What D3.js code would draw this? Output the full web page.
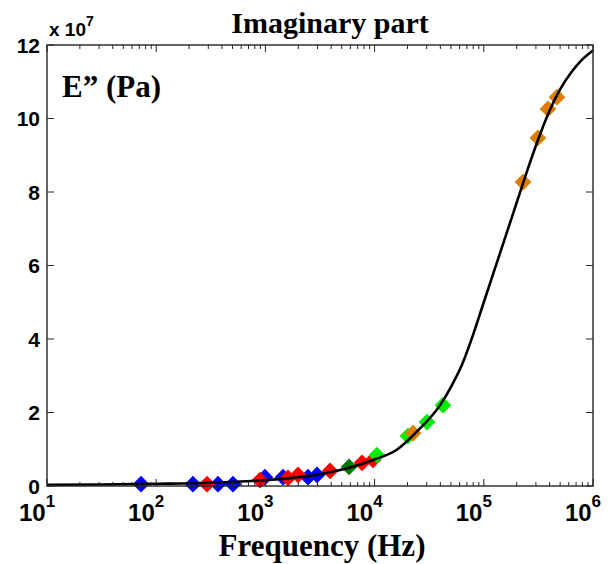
<!DOCTYPE html>
<html>
<head>
<meta charset="utf-8">
<script src="https://cdn.jsdelivr.net/npm/d3@7"></script>
<style>
  body { margin: 0; background: #fff; }
</style>
</head>
<body>
<div id="chart"></div>
<script>
// measured data (Hz, E'' in units of 1e7 Pa), one array per marker colour
var blueF = [72.6, 217, 368, 505, 990, 1449, 2455, 2970];
var blueE = [0.05, 0.05, 0.05, 0.05, 0.24, 0.24, 0.24, 0.30];
var redF = [292, 893, 1610, 1990, 3910, 7670, 9670];
var redE = [0.05, 0.16, 0.22, 0.30, 0.41, 0.63, 0.71];
var darkGreenF = [5830];
var darkGreenE = [0.52];
var greenF = [10500, 20200, 30200, 42300];
var greenE = [0.84, 1.36, 1.74, 2.20];
var orangeF = [22500, 228600, 313000, 387000, 468000];
var orangeE = [1.44, 8.27, 9.47, 10.26, 10.58];

// fitted model curve (log10 Hz, E'' / 1e7)
var fitLogF = [1.0, 1.5, 2.0, 2.5, 3.0, 3.25, 3.5, 3.75, 4.0, 4.2, 4.4, 4.6, 4.7, 4.8, 4.9, 5.0, 5.1, 5.2, 5.3, 5.4, 5.5, 5.6, 5.7, 5.8, 5.9, 6.0];
var fitE = [0.03, 0.04, 0.06, 0.09, 0.16, 0.22, 0.32, 0.48, 0.72, 0.98, 1.52, 2.2, 2.7, 3.3, 4.1, 5.0, 5.9, 6.8, 7.7, 8.6, 9.45, 10.2, 10.8, 11.25, 11.6, 11.85];

var yTicks = [0, 2, 4, 6, 8, 10, 12];
var xDecades = [1, 2, 3, 4, 5, 6];

var series = [
  { f: blueF, e: blueE, color: "#0000ff" },
  { f: redF, e: redE, color: "#ff0000" },
  { f: darkGreenF, e: darkGreenE, color: "#007a00" },
  { f: greenF, e: greenE, color: "#00ee00" },
  { f: orangeF, e: orangeE, color: "#dd7e00" }
];

var W = 615, H = 564;
var margin = { top: 45, right: 22, bottom: 78, left: 47 },
    width = W - margin.left - margin.right,
    height = H - margin.top - margin.bottom;

var svg = d3.select("#chart").append("svg")
    .attr("width", W)
    .attr("height", H);

var g = svg.append("g")
    .attr("transform", "translate(" + margin.left + "," + margin.top + ")");

var x = d3.scaleLog().domain([10, 1e6]).range([0, width]);
var y = d3.scaleLinear().domain([0, 12]).range([height, 0]);

var axisColor = "#262626";

// markers first, curve is drawn over them
var diamond = d3.symbol().type(d3.symbolSquare).size(140);
series.forEach(function (s) {
  g.selectAll(null)
    .data(s.f.map(function (f, i) { return [f, s.e[i]]; }))
    .enter().append("path")
    .attr("d", diamond)
    .attr("transform", function (d) {
      return "translate(" + x(d[0]) + "," + y(d[1]) + ") rotate(45)";
    })
    .attr("fill", s.color);
});

// curve
var fit = fitLogF.map(function (lf, i) { return [Math.pow(10, lf), fitE[i]]; });
g.append("path")
  .datum(fit)
  .attr("fill", "none")
  .attr("stroke", "#000")
  .attr("stroke-width", 2.6)
  .attr("d", d3.line()
    .x(function (d) { return x(d[0]); })
    .y(function (d) { return y(d[1]); })
    .curve(d3.curveMonotoneX));

// ticks (inside, all four sides)
var minor = [];
xDecades.slice(0, -1).forEach(function (dd) {
  for (var k = 2; k <= 9; k++) minor.push(k * Math.pow(10, dd));
});
var ticks = g.append("g").attr("stroke", axisColor).attr("stroke-width", 1);
minor.forEach(function (v) {
  ticks.append("line").attr("x1", x(v)).attr("x2", x(v)).attr("y1", height).attr("y2", height - 4);
  ticks.append("line").attr("x1", x(v)).attr("x2", x(v)).attr("y1", 0).attr("y2", 4);
});
xDecades.forEach(function (dd) {
  var v = Math.pow(10, dd);
  ticks.append("line").attr("x1", x(v)).attr("x2", x(v)).attr("y1", height).attr("y2", height - 7);
  ticks.append("line").attr("x1", x(v)).attr("x2", x(v)).attr("y1", 0).attr("y2", 7);
});
yTicks.forEach(function (v) {
  ticks.append("line").attr("x1", 0).attr("x2", 7).attr("y1", y(v)).attr("y2", y(v));
  ticks.append("line").attr("x1", width).attr("x2", width - 7).attr("y1", y(v)).attr("y2", y(v));
});

// box
g.append("rect")
  .attr("width", width).attr("height", height)
  .attr("fill", "none").attr("stroke", axisColor).attr("stroke-width", 1.4);

// y tick labels
g.selectAll(".ylab").data(yTicks).enter().append("text")
  .attr("x", -7)
  .attr("y", function (d) { return y(d); })
  .attr("dy", "0.36em")
  .attr("text-anchor", "end")
  .style("font-family", "Liberation Sans, Arial, sans-serif")
  .style("font-weight", "bold")
  .style("font-size", "21px")
  .text(function (d) { return d; });

// x tick labels 10^n
var xl = g.selectAll(".xlab").data(xDecades).enter().append("text")
  .attr("x", function (d) { return x(Math.pow(10, d)) - 10; })
  .attr("y", height + 35)
  .attr("text-anchor", "middle")
  .style("font-family", "Liberation Sans, Arial, sans-serif")
  .style("font-weight", "bold")
  .style("font-size", "24px");
xl.append("tspan").text("10");
xl.append("tspan").attr("dy", -14).style("font-size", "17px").text(function (d) { return d; });

// exponent label
var ex = svg.append("text")
  .attr("x", margin.left + 2).attr("y", 36)
  .style("font-family", "Liberation Sans, Arial, sans-serif")
  .style("font-weight", "bold")
  .style("font-size", "19px");
ex.append("tspan").text("x 10");
ex.append("tspan").attr("dy", -10).style("font-size", "14px").text("7");

// titles
var serif = "Liberation Serif, Times New Roman, serif";
svg.append("text")
  .attr("x", 330).attr("y", 33)
  .attr("text-anchor", "middle")
  .style("font-family", serif).style("font-weight", "bold").style("font-size", "30px")
  .text("Imaginary part");

svg.append("text")
  .attr("x", 322).attr("y", 556)
  .attr("text-anchor", "middle")
  .style("font-family", serif).style("font-weight", "bold").style("font-size", "31px")
  .text("Frequency (Hz)");

svg.append("text")
  .attr("x", 62).attr("y", 97)
  .style("font-family", serif).style("font-weight", "bold").style("font-size", "31px")
  .text("E\u201D (Pa)");
</script>
</body>
</html>
